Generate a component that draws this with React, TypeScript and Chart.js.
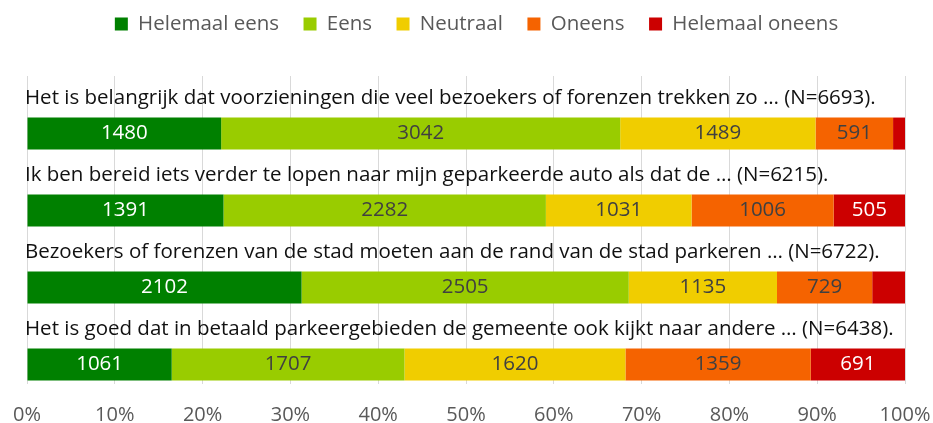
import React, { useEffect, useRef } from 'react';
import { Chart, registerables } from 'chart.js';

Chart.register(...registerables);

const FONT = "'Open Sans', 'Noto Sans', sans-serif";

// ---- data ----
const categories = [
  'Het is belangrijk dat voorzieningen die veel bezoekers of forenzen trekken zo … (N=6693).',
  'Ik ben bereid iets verder te lopen naar mijn geparkeerde auto als dat de … (N=6215).',
  'Bezoekers of forenzen van de stad moeten aan de rand van de stad parkeren … (N=6722).',
  'Het is goed dat in betaald parkeergebieden de gemeente ook kijkt naar andere … (N=6438).',
];
const sampleSizes = [6693, 6215, 6722, 6438];
const seriesNames = ['Helemaal eens', 'Eens', 'Neutraal', 'Oneens', 'Helemaal oneens'];
const helemaalEens = [1480, 1391, 2102, 1061];
const eens = [3042, 2282, 2505, 1707];
const neutraal = [1489, 1031, 1135, 1620];
const oneens = [591, 1006, 729, 1359];
const helemaalOneens = [91, 505, 251, 691];
const xTickValues = [0, 10, 20, 30, 40, 50, 60, 70, 80, 90, 100];

// ---- styles ----
const seriesColors = ['#008000', '#99CC00', '#F0CD00', '#F56300', '#CC0000'];
const valueTextColors = ['#ffffff', '#404040', '#404040', '#404040', '#ffffff'];
const seriesCounts = [helemaalEens, eens, neutraal, oneens, helemaalOneens];

const barTextPlugin = {
  id: 'barTexts',
  afterDatasetsDraw(chart: any) {
    const ctx = chart.ctx;
    const area = chart.chartArea;
    ctx.save();
    // category titles above each bar
    ctx.font = `20.5px ${FONT}`;
    const firstMeta = chart.getDatasetMeta(1);
    firstMeta.data.forEach((el: any, i: number) => {
      const { y, height } = el.getProps(['y', 'height'], true);
      ctx.fillStyle = '#111111';
      ctx.textAlign = 'left';
      ctx.textBaseline = 'alphabetic';
      ctx.fillText(categories[i], area.left - 2, y - height / 2 - 14);
    });
    // counts inside the segments
    ctx.font = `20.5px ${FONT}`;
    for (let s = 0; s < seriesCounts.length; s++) {
      const meta = chart.getDatasetMeta(s + 1);
      meta.data.forEach((el: any, i: number) => {
        const { x, y, base } = el.getProps(['x', 'y', 'base'], true);
        const text = String(seriesCounts[s][i]);
        const w = Math.abs(x - base);
        if (ctx.measureText(text).width + 6 > w) return;
        ctx.fillStyle = valueTextColors[s];
        ctx.textAlign = 'center';
        ctx.textBaseline = 'middle';
        ctx.fillText(text, (x + base) / 2, y);
      });
    }
    ctx.restore();
  },
};

const legendLayoutPlugin = {
  id: 'legendLayout',
  beforeInit(chart: any) {
    const lg = chart.legend;
    if (!lg) return;
    const origFit = lg.fit;
    lg.fit = function () {
      origFit.call(this);
      this.height = 76;
    };
  },
  afterLayout(chart: any) {
    const lg = chart.legend;
    if (!lg) return;
    lg.left += 10.5;
    lg.right += 10.5;
    lg.top -= 10.75;
    lg.bottom -= 10.75;
  },
};

export default function App() {
  const ref = useRef<HTMLCanvasElement | null>(null);

  useEffect(() => {
    if (!ref.current) return;
    Chart.defaults.font.family = FONT;

    const datasets: any[] = [
      {
        label: '',
        data: categories.map(() => null),
        stack: 'title',
        backgroundColor: 'rgba(0,0,0,0)',
      },
      ...seriesNames.map((name, s) => ({
        label: name,
        data: seriesCounts[s].map((v, i) => (v / sampleSizes[i]) * 100),
        stack: 'bars',
        backgroundColor: seriesColors[s],
        borderWidth: 0,
      })),
    ];

    const chart = new Chart(ref.current, {
      type: 'bar',
      data: { labels: categories, datasets },
      options: {
        indexAxis: 'y',
        animation: false,
        responsive: false,
        devicePixelRatio: 1,
        datasets: {
          bar: { categoryPercentage: 0.99, barPercentage: 0.84 },
        },
        layout: { padding: { left: 27, right: 28, top: 0, bottom: -4 } },
        scales: {
          x: {
            type: 'linear',
            min: xTickValues[0],
            max: xTickValues[xTickValues.length - 1],
            stacked: true,
            afterBuildTicks: (axis: any) => {
              axis.ticks = xTickValues.map((v) => ({ value: v }));
            },
            ticks: {
              callback: (v: any) => `${v}%`,
              color: '#595959',
              font: { family: FONT, size: 20 },
              padding: 0,
              maxRotation: 0,
              autoSkip: false,
            },
            grid: {
              color: '#d9d9d9',
              lineWidth: 1,
              drawTicks: true,
              tickLength: 19,
              tickColor: 'rgba(0,0,0,0)',
            },
            border: { display: false },
          },
          y: {
            type: 'category',
            stacked: true,
            display: false,
          },
        },
        plugins: {
          legend: {
            position: 'top',
            labels: {
              boxWidth: 13,
              boxHeight: 13,
              padding: 24.5,
              color: '#595959',
              font: { family: FONT, size: 20.5 },
              filter: (item: any) => item.datasetIndex !== 0,
            },
          },
          tooltip: { enabled: false },
        },
      },
      plugins: [barTextPlugin, legendLayoutPlugin],
    } as any);

    return () => chart.destroy();
  }, []);

  return (
    <div style={{ position: 'absolute', left: 0, top: 0, width: 933, height: 423, background: '#ffffff' }}>
      <canvas ref={ref} width={933} height={423} style={{ display: 'block' }} />
    </div>
  );
}
